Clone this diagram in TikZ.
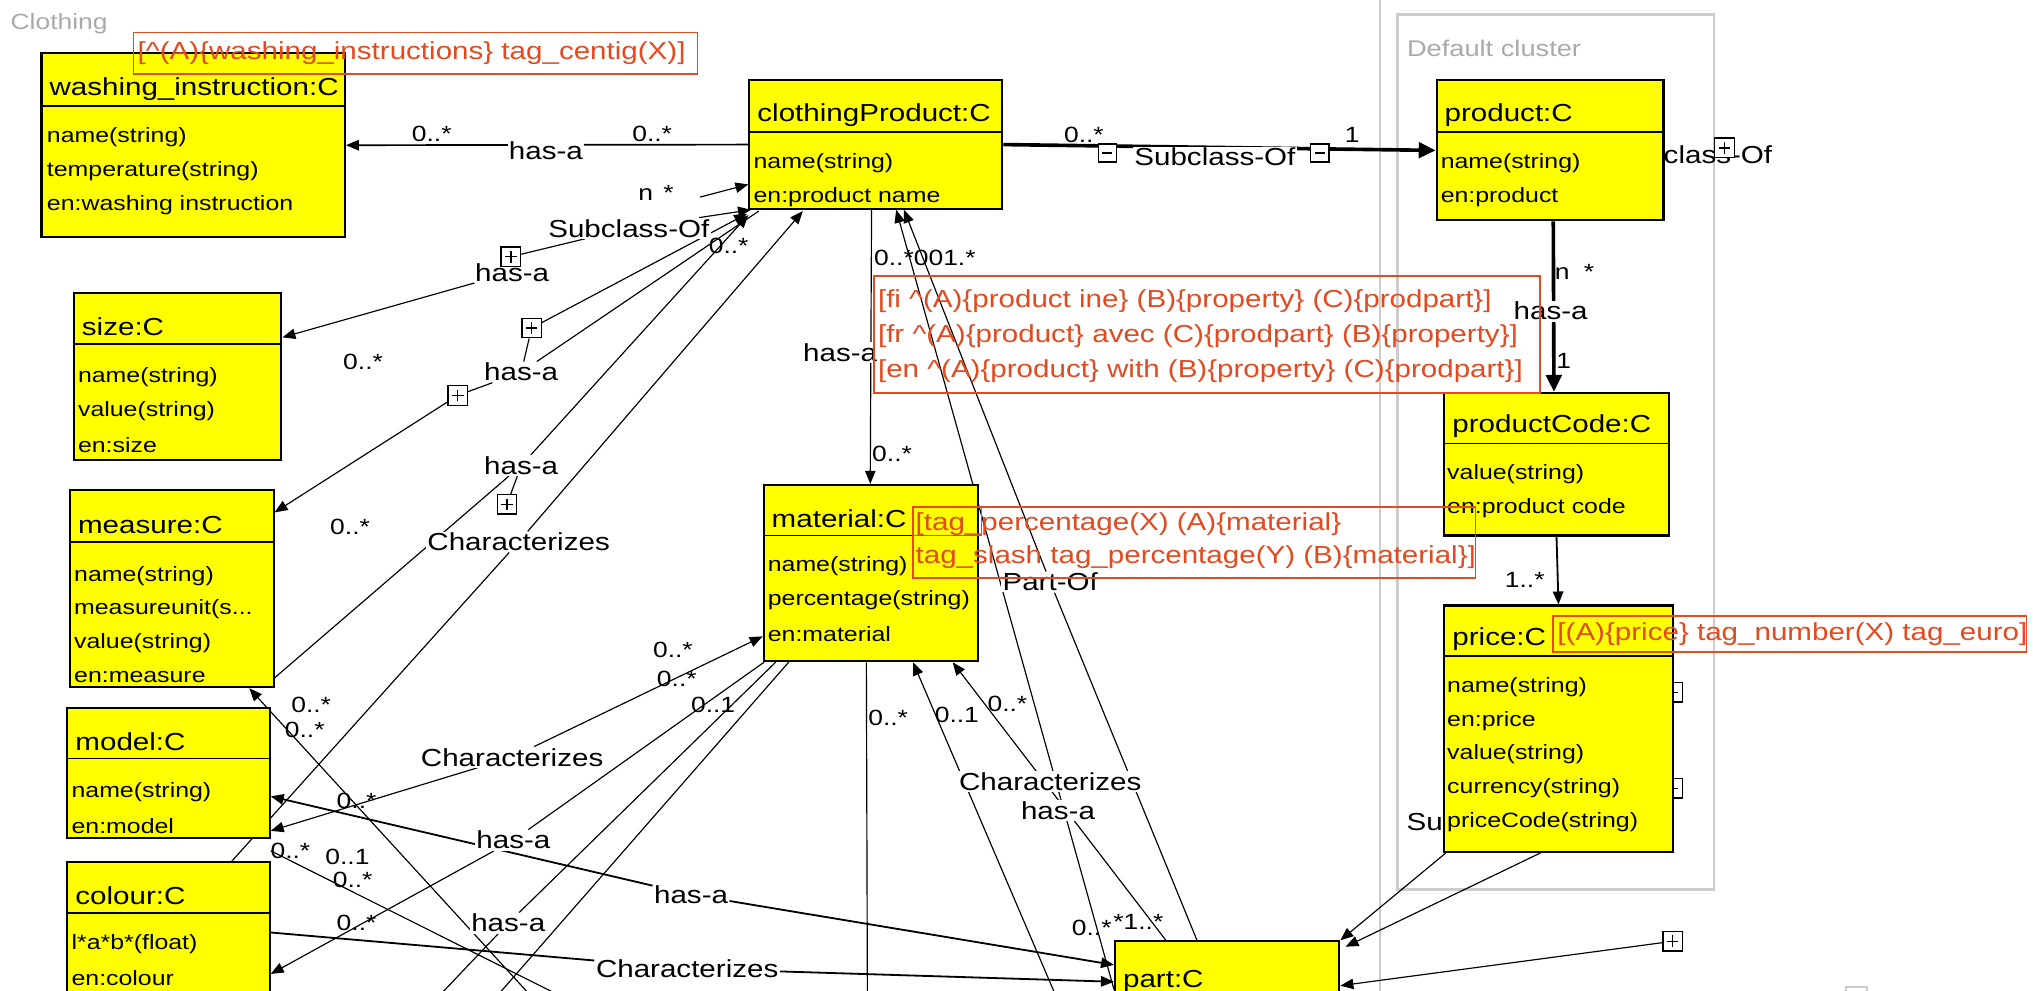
\documentclass[tikz,border=0pt]{standalone}
\usepackage{fontspec}
\setmainfont{Liberation Sans}
\newfontfamily\umlfont[FakeStretch=1.2]{Liberation Sans}
\usetikzlibrary{arrows.meta,fit,calc}
\definecolor{clsyellow}{RGB}{255,255,0}
\definecolor{tagred}{RGB}{226,74,32}
\definecolor{clustergray}{RGB}{205,205,205}
\definecolor{clustertext}{RGB}{170,170,170}
\pgfdeclarelayer{back}
\pgfdeclarelayer{lines}
\pgfsetlayers{back,lines,main}

% class box: name, x1, y1, x2, y2, divider y, title
\newcommand{\umlclass}[7]{%
  \node[cls, fit={(#2,#3) (#4,#5)}] (#1) {};
  \draw[divline] (#2,#6) -- (#4,#6);
  \node[ttl] (#1-title) at ({#2+6},{#6-13}) {#7};
}
% attribute rows: name, x, y of first row, list of rows
\newcommand{\umlrows}[4]{%
  \foreach \r [count=\i] in {#4}
    \node[attr] (#1-row\i) at ({#2},{#3+26*(\i-1)}) {\r};
}

\begin{document}
\begin{tikzpicture}[x=1pt,y=-1pt,
  cls/.style={draw=black,line width=1.6pt,fill=clsyellow,inner sep=0pt},
  divline/.style={draw=black,line width=1.4pt},
  ttl/.style={anchor=west,inner sep=0pt,font=\umlfont\fontsize{19}{19}\selectfont},
  attr/.style={anchor=west,inner sep=0pt,font=\umlfont\fontsize{16}{16}\selectfont},
  lbl/.style={fill=white,inner sep=1pt,font=\umlfont\fontsize{19}{19}\selectfont},
  card/.style={inner sep=0pt,font=\umlfont\fontsize{17}{17}\selectfont},
  tagframe/.style={draw=tagred,line width=1.3pt},
  tagtext/.style={anchor=west,inner sep=0pt,text=tagred,font=\umlfont\fontsize{19}{19}\selectfont},
  conn/.style={draw=black,line width=0.9pt},
  mid/.style={draw=black,line width=1.4pt},
  heavy/.style={draw=black,line width=2.8pt},
  arr/.style={-{Triangle[length=10pt,width=8pt]}},
  arrbig/.style={-{Triangle[length=13pt,width=12pt]}},
  plusbox/.style={draw=black,line width=1pt,fill=white,minimum size=15pt,inner sep=0pt,
    path picture={\draw[line width=1.1pt]
      ([xshift=-4.5pt]path picture bounding box.center) -- ([xshift=4.5pt]path picture bounding box.center)
      ([yshift=-4.5pt]path picture bounding box.center) -- ([yshift=4.5pt]path picture bounding box.center);}},
  minusbox/.style={draw=black,line width=1pt,fill=white,minimum size=14pt,inner sep=0pt,
    path picture={\draw[line width=1.1pt]
      ([xshift=-4pt]path picture bounding box.center) -- ([xshift=4pt]path picture bounding box.center);}},
]
\useasboundingbox (0,0) rectangle (1568,764);

% cluster frames
\begin{pgfonlayer}{back}
  \fill[white] (0,0) rectangle (1568,764);
  \draw[clustergray,line width=1.6pt] (1064,-2) -- (1064,766);
  \draw[clustergray,line width=2.2pt] (1078,11) rectangle (1322,686);
  \draw[clustergray,line width=1.6pt] (1424,761) rectangle (1440,775);
\end{pgfonlayer}
\node[anchor=west,inner sep=0pt,text=clustertext,font=\umlfont\fontsize{17}{17}\selectfont] (clothing-name) at (8,18) {Clothing};
\node[anchor=west,inner sep=0pt,text=clustertext,font=\umlfont\fontsize{17.5}{17.5}\selectfont] (cluster-name) at (1085,37) {Default cluster};

% classes
\umlclass{wash}{32}{41}{266}{183}{82}{washing\_instruction:C}
\umlrows{wash}{36}{106}{name(string),temperature(string),en:washing instruction}
\umlclass{cp}{578}{62}{773}{161}{102}{clothingProduct:C}
\umlrows{cp}{581}{126}{name(string),en:product name}
\umlclass{prod}{1108}{62}{1283}{170}{102}{product:C}
\umlrows{prod}{1111}{126}{name(string),en:product}
\umlclass{size}{57}{226}{217}{355}{265}{size:C}
\umlrows{size}{60}{291}{name(string),value(string),en:size}
\umlclass{measure}{54}{378}{211}{530}{418}{measure:C}
\umlrows{measure}{57}{444}{name(string),measureunit(s.{}.{}.,value(string),en:measure}
\umlclass{model}{52}{546}{208}{646}{585}{model:C}
\umlrows{model}{55}{611}{name(string),en:model}
\umlclass{colour}{52}{665}{208}{800}{704}{colour:C}
\umlrows{colour}{55}{728}{l*a*b*(float),en:colour}
\umlclass{material}{589}{374}{754}{510}{413}{material:C}
\umlrows{material}{592}{437}{name(string),percentage(string),en:material}
\umlclass{pc}{1114}{303}{1287}{413}{342}{productCode:C}
\umlrows{pc}{1116}{366}{value(string),en:product code}
\umlclass{price}{1114}{467}{1290}{657}{506}{price:C}
\umlrows{price}{1116}{530}{name(string),en:price,value(string),currency(string),priceCode(string)}
\umlclass{part}{860}{726}{1033}{800}{770}{part:C}

% relation labels
\node[lbl] (wash-has) at (421,116) {has-a};
\node[lbl] (sub-lbl) at (937,121) {Subclass-Of};
\node[minusbox] (sub-m1) at (854,118) {};
\node[minusbox] (sub-m2) at (1018,118) {};
\node[lbl] (pc-has) at (1196,240) {has-a};
\coordinate (cp-stub) at (540,152);
\node[lbl] (sub2-lbl) at (485,176) {Subclass-Of};
\node[lbl] (size-has) at (395,210) {has-a};
\node[plusbox] (size-pl) at (394,198) {};
\node[lbl] (meas-has) at (402,287) {has-a};
\node[plusbox] (meas-pl1) at (410,253) {};
\node[plusbox] (meas-pl2) at (353,305) {};
\node[lbl] (mod-has) at (402,359) {has-a};
\node[lbl] (mod-char) at (400,418) {Characterizes};
\node[plusbox] (mod-pl) at (391,389) {};
\node[lbl] (mat-char) at (395,584) {Characterizes};
\node[lbl] (mat-has1) at (396,648) {has-a};
\node[lbl] (mat-has2) at (392,712) {has-a};
\node[lbl] (part-has) at (533,690) {has-a};
\node[lbl] (part-char) at (530,747) {Characterizes};
\node[lbl] (mat-has0) at (648,272) {has-a};
\node[lbl] (part-of) at (810,449) {Part-Of};
\node[lbl] (part-char2) at (810,603) {Characterizes};
\node[lbl] (part-has2) at (816,625) {has-a};
\node[plusbox] (part-pl) at (1290,726) {};
\coordinate (end-a) at (335,772);
\coordinate (end-b) at (380,772);
\coordinate (end-c) at (413,772);
\coordinate (end-d) at (440,772);
\coordinate (end-e) at (669,772);
\coordinate (end-f) at (816,772);

% multiplicities
\node[card] (c-w1) at (333,103) {0..*};
\node[card] (c-w2) at (503,103) {0..*};
\node[card] (c-s1) at (836,104) {0..*};
\node[card] (c-s2) at (1043,104) {1};
\node[card,anchor=west] (c-p1) at (1199,210) {n\hspace{11pt}*};
\node[card] (c-p2) at (1206,278) {1};
\node[card] (c-p3) at (1176,447) {1..*};
\node[card] (c-cp) at (506,149) {n\hspace{8pt}*};
\node[card] (c-sub) at (562,190) {0..*};
\node[card] (c-size) at (280,279) {0..*};
\node[card] (c-meas) at (270,406) {0..*};
\node[card] (c-mt1) at (519,501) {0..*};
\node[card] (c-mt2) at (522,524) {0..*};
\node[card] (c-mt3) at (550,544) {0..1};
\node[card] (c-md1) at (240,544) {0..*};
\node[card] (c-md2) at (235,563) {0..*};
\node[card] (c-md3) at (275,618) {0..*};
\node[card] (c-md4) at (224,656) {0..*};
\node[card] (c-md5) at (268,661) {0..1};
\node[card] (c-md6) at (272,679) {0..*};
\node[card] (c-cl) at (275,712) {0..*};
\node[card] (c-v1) at (688,350) {0..*};
\node[card] (c-v2) at (685,554) {0..*};
\node[card,anchor=west] (c-top) at (674,199) {0..*001.*};
\node[card] (c-pt1) at (738,551) {0..1};
\node[card] (c-pt2) at (777,543) {0..*};
\node[card] (c-pt3) at (842,716) {0..*};
\node[card] (c-pt4) at (878,711) {*1..*};

% lexical tags
\draw[tagframe] (103,25) rectangle (538,57);
\node[tagtext] (tag-wash) at (106,41) {[\textasciicircum(A)\{washing\_instructions\} tag\_centig(X)]};
\draw[tagframe] (674,213) rectangle (1188,303);
\node[tagtext] (tag-fi) at (677,232) {[fi \textasciicircum(A)\{product ine\} (B)\{property\} (C)\{prodpart\}]};
\node[tagtext] (tag-fr) at (677,259) {[fr \textasciicircum(A)\{product\} avec (C)\{prodpart\} (B)\{property\}]};
\node[tagtext] (tag-en) at (677,286) {[en \textasciicircum(A)\{product\} with (B)\{property\} (C)\{prodpart\}]};
\draw[tagframe] (704,391) rectangle (1138,446);
\draw[tagframe] (704,391) rectangle (757,413);
\node[tagtext] (tag-mat1) at (706,404) {[tag\_percentage(X) (A)\{material\}};
\node[tagtext] (tag-mat2) at (706,430) {tag\_slash tag\_percentage(Y) (B)\{material\}]};
\draw[tagframe] (1198,475) rectangle (1563,503);
\node[tagtext] (tag-price) at (1201,489) {[(A)\{price\} tag\_number(X) tag\_euro]};

% connectors
\begin{pgfonlayer}{lines}
  % role labels partly hidden behind class boxes
  \node[anchor=east,inner sep=0pt,font=\umlfont\fontsize{19}{19}\selectfont] (prod-sub) at (1367,119) {Subclass-Of};
  \node[plusbox] (prod-pl) at (1330,114) {};
  \node[anchor=east,inner sep=0pt,font=\umlfont\fontsize{19}{19}\selectfont] (price-sub) at (1113,634) {Su};
  \node[plusbox] (price-pl1) at (1290,534) {};
  \node[plusbox] (price-pl2) at (1290,608) {};

  \draw[conn,line width=1.3pt,arr] (cp.west) -- (wash.east);
  \draw[heavy,arrbig] (cp.east) -- (prod.west);
  \draw[heavy,arrbig] ($(prod.south)+(2.5,0)$) -- ($(pc.north)+(-2,0)$);
  \draw[mid,arr] (pc.south) -- (price.north);
  \draw[conn,arr] (cp-stub) -- ($(cp.north west)+(0,81)$);

  % size and measure
  \draw[conn,arr] (size-has) -- ($(size.north east)+(0,35)$);
  \draw[conn] (size-pl) -- (sub2-lbl);
  \draw[conn,arr] (sub2-lbl) -- ($(cp.south west)+(2,0)$);
  \draw[conn,arr] (meas-pl2) -- ($(measure.north east)+(0,18)$);
  \draw[conn] (meas-pl2) -- (meas-has);
  \draw[conn] (meas-has) -- (meas-pl1);
  \draw[conn,arr] (meas-pl1) -- ($(cp.south west)+(-1,3)$);
  \draw[conn] (meas-has) -- ($(cp.south west)+(8,1)$);

  % model chain
  \draw[conn,arr] (mod-has) -- ($(cp.south west)+(0,4)$);
  \draw[conn,arr] (mod-char) -- ($(cp.south west)+(42,1)$);
  \draw[conn] (mod-has) -- ($(measure.south east)+(0,-8)$);
  \draw[conn] (mod-has) -- (mod-pl);
  \draw[conn] (mod-char) -- ($(colour.north east)+(-30,0)$);

  % material to the left-hand classes
  \draw[conn,arr] (mat-char) -- ($(material.south west)+(0,-20)$);
  \draw[conn,arr] (mat-char) -- ($(model.south east)+(0,-6)$);
  \draw[conn] (mat-has1) -- ($(material.south west)+(1,0)$);
  \draw[conn,arr] (mat-has1) -- ($(colour.north east)+(0,87)$);
  \draw[conn] (mat-has2) -- ($(material.south west)+(10,0)$);
  \draw[conn] (mat-has2) -- (end-a);
  \draw[conn] ($(material.south west)+(20,0)$) -- (end-b);

  % model and colour to part
  \draw[mid,arr] (part-has) -- ($(model.north east)+(0,69)$);
  \draw[mid,arr] (part-has) -- ($(part.north west)+(0,19)$);
  \draw[mid] (part-char) -- ($(colour.north east)+(0,55)$);
  \draw[mid,arr] (part-char) -- ($(part.north west)+(0,32)$);

  % lines leaving the lower edge
  \draw[conn,arr] (end-c) -- ($(measure.south west)+(139,0)$);
  \draw[conn] ($(colour.north east)+(0,-8)$) -- (end-d);

  % clothingProduct, material and part
  \draw[conn,arr] ($(cp.south west)+(95,0)$) -- ($(material.north west)+(83,0)$);
  \draw[conn] ($(material.south west)+(80,0)$) -- (end-e);
  \draw[conn,arr] (part-of) -- ($(cp.south west)+(120,0)$);
  \draw[conn] (part-of) -- ($(part.north west)+(64,0)$);
  \draw[conn,arr] ($(part.north west)+(0,38)$) -- ($(cp.south west)+(114,0)$);
  \draw[conn,arr] ($(part.north west)+(40,0)$) -- ($(material.south east)+(-20,0)$);
  \draw[conn,arr] (end-f) -- ($(material.south west)+(116,0)$);

  % price and part
  \draw[conn,arr] ($(price.south west)+(2,0)$) -- (part.north east);
  \draw[conn,arr] ($(price.south west)+(75,0)$) -- ($(part.north east)+(4,5)$);
  \draw[conn,arr] (part-pl) -- ($(part.north east)+(0,35)$);
\end{pgfonlayer}
\end{tikzpicture}
\end{document}
